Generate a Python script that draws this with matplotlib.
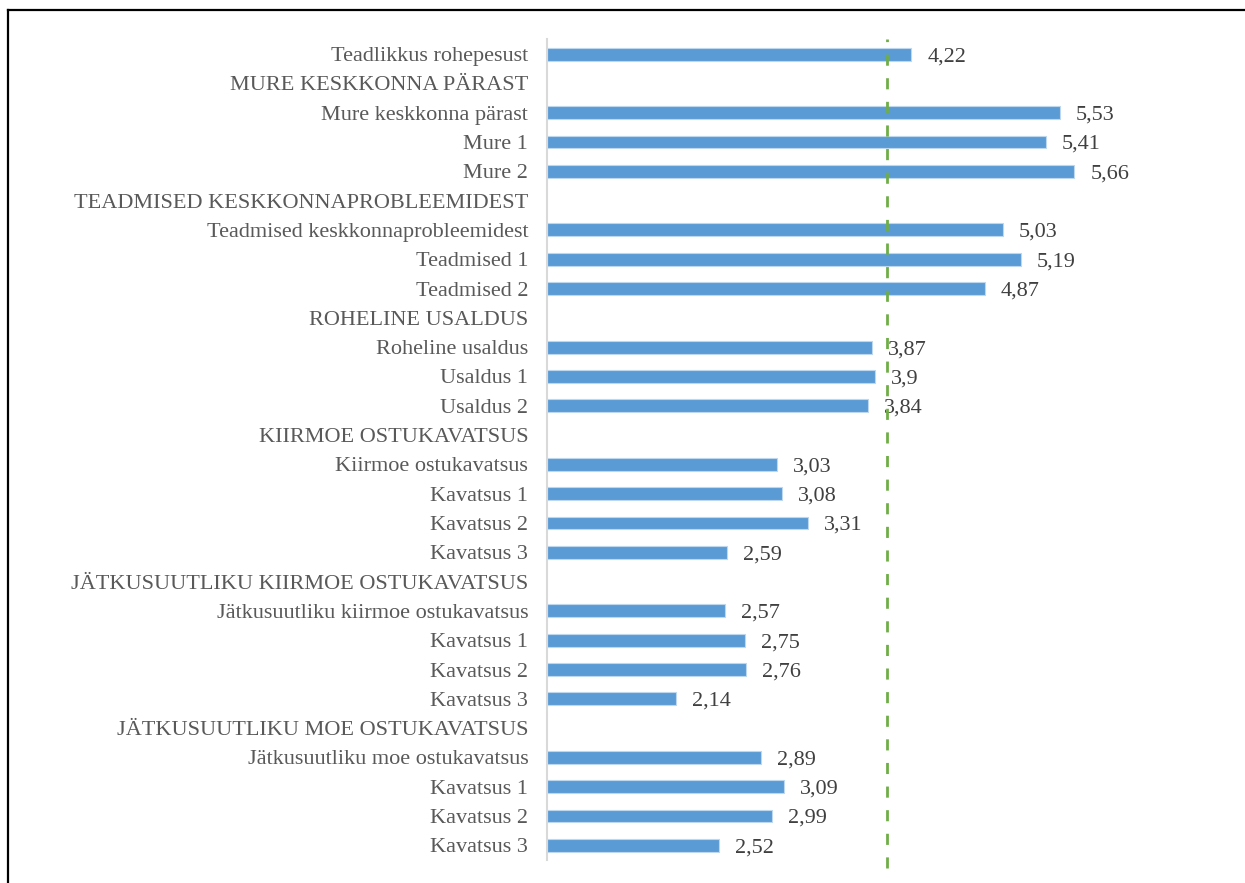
import matplotlib
matplotlib.use("Agg")
import matplotlib.pyplot as plt
from matplotlib.lines import Line2D
import numpy as np

labels = [
    "Teadlikkus rohepesust",
    "MURE KESKKONNA PÄRAST",
    "Mure keskkonna pärast", "Mure 1", "Mure 2",
    "TEADMISED KESKKONNAPROBLEEMIDEST",
    "Teadmised keskkonnaprobleemidest", "Teadmised 1", "Teadmised 2",
    "ROHELINE USALDUS",
    "Roheline usaldus", "Usaldus 1", "Usaldus 2",
    "KIIRMOE OSTUKAVATSUS",
    "Kiirmoe ostukavatsus", "Kavatsus 1", "Kavatsus 2", "Kavatsus 3",
    "JÄTKUSUUTLIKU KIIRMOE OSTUKAVATSUS",
    "Jätkusuutliku kiirmoe ostukavatsus", "Kavatsus 1", "Kavatsus 2", "Kavatsus 3",
    "JÄTKUSUUTLIKU MOE OSTUKAVATSUS",
    "Jätkusuutliku moe ostukavatsus", "Kavatsus 1", "Kavatsus 2", "Kavatsus 3",
]
values = [
    4.22,
    None,
    5.53, 5.41, 5.66,
    None,
    5.03, 5.19, 4.87,
    None,
    3.87, 3.9, 3.84,
    None,
    3.03, 3.08, 3.31, 2.59,
    None,
    2.57, 2.75, 2.76, 2.14,
    None,
    2.89, 3.09, 2.99, 2.52,
]
axis_min = 1
axis_max = 7
reference_value = 4

plt.rcParams['font.family'] = ['Liberation Serif', 'DejaVu Serif']
FS = 16

W, H = 1245, 883
fig = plt.figure(figsize=(W / 100, H / 100), dpi=100)
fig.patch.set_facecolor("white")

left = 547 / W
right = 1226 / W
top = 1 - 39.4 / H
bottom = 1 - 860 / H
ax = fig.add_axes([left, bottom, right - left, top - bottom])

y = np.arange(len(labels))
for yi, v in zip(y, values):
    if v is None:
        continue
    ax.barh(yi, v - axis_min, left=axis_min, height=0.44, color="#5B9BD5",
            edgecolor="#BDD7EE", linewidth=0.8, zorder=2)
    ax.annotate(f"{v:g}".replace(".", ","), xy=(v, yi), xytext=(11.5, 0),
                textcoords="offset points", ha="left", va="center_baseline",
                fontsize=FS, color="#404040", zorder=3)

ax.set_xlim(axis_min, axis_max)
ax.set_ylim(len(labels) - 0.5, -0.5)
ax.set_yticks(y)
ax.set_yticklabels(labels, fontsize=FS, color="#595959", va="center_baseline")
ax.tick_params(axis="y", length=0, pad=13.5)
ax.set_xticks([])
for s in ["top", "right", "bottom"]:
    ax.spines[s].set_visible(False)
ax.spines["left"].set_color("#D9D9D9")
ax.spines["left"].set_linewidth(1.5)

ax.axvline(reference_value, ymin=-0.01, ymax=1.0, color="#70AD47",
           linewidth=2.0, linestyle=(0, (4, 4.5)), clip_on=False, zorder=4)

# figure border (left and top visible)
fig.add_artist(Line2D([7.5 / W, 7.5 / W], [-0.05, 1 - 10 / H],
                      transform=fig.transFigure, color="black", linewidth=1.6))
fig.add_artist(Line2D([7.5 / W, 1.05], [1 - 10 / H, 1 - 10 / H],
                      transform=fig.transFigure, color="black", linewidth=1.6))

fig.savefig("out.png", dpi=100)
